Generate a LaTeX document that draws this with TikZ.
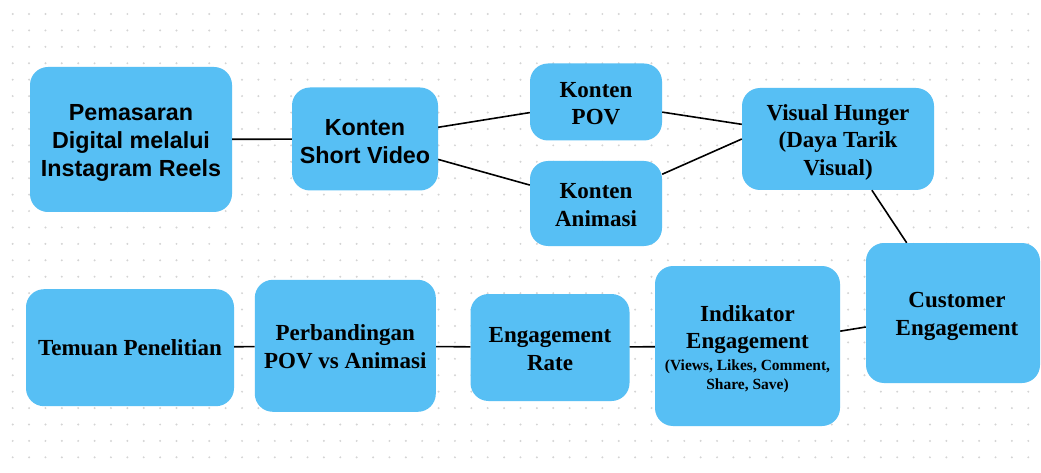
\documentclass[tikz,border=0pt]{standalone}
\usepackage{fontspec}
\setmainfont{Liberation Serif}
\setsansfont{Liberation Sans}
\definecolor{boxblue}{RGB}{87,191,244}
\definecolor{dotgray}{RGB}{212,212,212}
\newcommand\tup{\rule{0pt}{22pt}}
\newcommand\tlow{\rule{0pt}{18pt}}
\begin{document}
\begin{tikzpicture}[x=1pt,y=-1pt,
  box/.style={fill=boxblue, rounded corners=18pt, inner sep=0pt, align=center,
    font=\bfseries\fontsize{23}{27.5}\selectfont},
  sbox/.style={box, font=\sffamily\bfseries\fontsize{23.3}{28}\selectfont},
  link/.style={draw=black, line width=1.6pt}]
\fill[white] (0,0) rectangle (1041,473);
\useasboundingbox (0,0) rectangle (1041,473);
\foreach \i in {0,...,62} {
  \foreach \j in {0,...,27} {
    \fill[dotgray] (12.7+16.38*\i, 14+16.42*\j) circle (1.1);
  }
}
\node[sbox, minimum width=202, minimum height=145] (pm) at (131,139.5) {\tup Pemasaran\\Digital melalui\\Instagram Reels};
\node[sbox, minimum width=146, minimum height=103] (sv) at (365,139) {\tup Konten\\Short Video};
\node[box, minimum width=132, minimum height=77] (pov) at (596,102) {\tlow Konten\\POV};
\node[box, minimum width=132, minimum height=85] (ani) at (596,203.5) {\tlow Konten\\Animasi};
\node[box, minimum width=192, minimum height=102] (vh) at (838,139) {\tup Visual Hunger\\(Daya Tarik\\Visual)};
\node[box, minimum width=174, minimum height=140] (ce) at (953,313) {\tup\hspace*{8pt}Customer\\\hspace*{8pt}Engagement};
\node[box, minimum width=185, minimum height=160] (ind) at (747.5,346) {\tup Indikator\\Engagement\\[-6pt]{\fontsize{15.5}{18}\selectfont (Views, Likes, Comment,}\\[-8pt]{\fontsize{15.5}{18}\selectfont Share, Save)}};
\node[box, minimum width=159, minimum height=107] (er) at (550,347.5) {\tlow Engagement\\Rate};
\node[box, minimum width=181, minimum height=132] (pb) at (345.3,345.8) {\tlow Perbandingan\\POV vs Animasi};
\node[box, minimum width=208, minimum height=117] (tp) at (130,347.7) {Temuan Penelitian};
\draw[link] (pm) -- (sv);
\draw[link] (sv) -- (pov);
\draw[link] (sv) -- (ani);
\draw[link] (pov) -- (vh);
\draw[link] (ani) -- (vh.west);
\draw[link] (vh) -- (ce);
\draw[link] (ce) -- (ind);
\draw[link] (ind) -- (er);
\draw[link] (er) -- (pb);
\draw[link] (pb) -- (tp);
\end{tikzpicture}
\end{document}
